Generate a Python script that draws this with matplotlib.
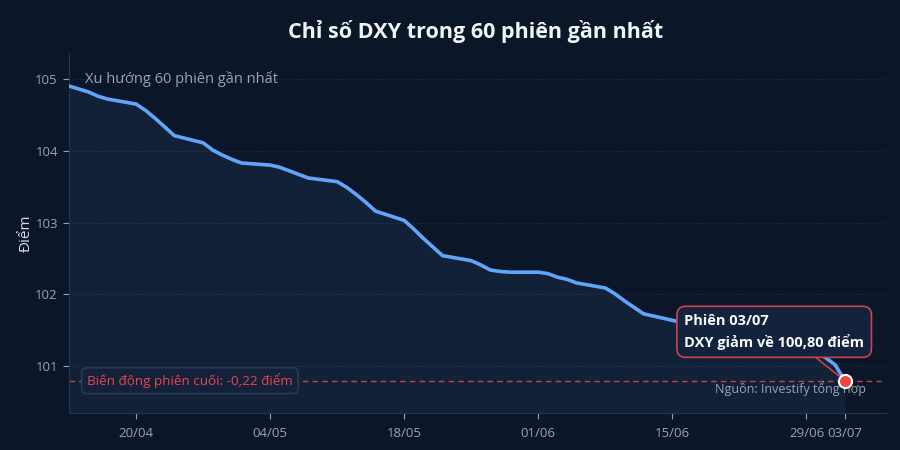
import numpy as np
import pandas as pd
import matplotlib
matplotlib.use('Agg')
import matplotlib.pyplot as plt
import matplotlib.dates as mdates

plt.rcParams['font.family'] = ['Open Sans', 'Noto Sans', 'DejaVu Sans']

# 60 phiên giao dịch (thứ 2 - thứ 6)
sessions = pd.bdate_range('2026-04-13', '2026-07-03')
dxy = [104.90, 104.86, 104.82, 104.76, 104.72,
       104.65, 104.56, 104.45, 104.33, 104.21,
       104.11, 104.01, 103.94, 103.88, 103.83,
       103.80, 103.77, 103.72, 103.67, 103.62,
       103.57, 103.49, 103.39, 103.28, 103.16,
       103.03, 102.91, 102.78, 102.66, 102.54,
       102.47, 102.41, 102.34, 102.32, 102.31,
       102.31, 102.29, 102.24, 102.21, 102.16,
       102.09, 102.01, 101.91, 101.82, 101.73,
       101.64, 101.61, 101.58, 101.54, 101.50,
       101.45, 101.41, 101.37, 101.33, 101.30,
       101.26, 101.21, 101.12, 101.02, 100.80]

tick_dates = pd.to_datetime(['2026-04-20', '2026-05-04', '2026-05-18', '2026-06-01',
                             '2026-06-15', '2026-06-29', '2026-07-03'])
tick_labels = ['20/04', '04/05', '18/05', '01/06', '15/06', '29/06', '03/07']
y_ticks = [101, 102, 103, 104, 105]

bg = '#0b1628'
line_col = '#60a5fa'
red = '#e5484d'
grey = '#97a3b6'

fig = plt.figure(figsize=(9, 4.5), dpi=100, facecolor=bg)
ax = fig.add_axes([0.0767, 0.0822, 0.9077, 0.80])
ax.set_facecolor(bg)

ymin, ymax = 100.35, 105.36
last = dxy[-1]
change = dxy[-1] - dxy[-2]

ax.fill_between(sessions, dxy, ymin, color=line_col, alpha=0.08, linewidth=0)
ax.plot(sessions, dxy, color=line_col, linewidth=2.6, solid_joinstyle='round',
        solid_capstyle='round', zorder=3)
ax.axhline(last, color=red, linestyle=(0, (4, 3)), linewidth=1.0, alpha=0.85, zorder=2)
ax.scatter([sessions[-1]], [last], s=90, color='#ef4444', edgecolor='white',
           linewidth=1.5, zorder=5)

ax.set_ylim(ymin, ymax)
ax.set_xlim(sessions[0], sessions[0] + pd.Timedelta(days=85.3))
ax.set_yticks(y_ticks)
ax.set_xticks(tick_dates)
ax.set_xticklabels(tick_labels)
ax.grid(axis='y', color='#22324d', linestyle=(0, (1, 2)), linewidth=0.8)
ax.set_axisbelow(True)

for s in ['top', 'right']:
    ax.spines[s].set_visible(False)
for s in ['left', 'bottom']:
    ax.spines[s].set_color('#26354f')
ax.tick_params(colors=grey, labelsize=9.5, length=4, width=0.8)
ax.tick_params(axis='x', pad=6)
ax.tick_params(axis='y', pad=4)

ax.set_ylabel('Điểm', color='#d6dde8', fontsize=11, labelpad=1)
fig.suptitle('Chỉ số DXY trong 60 phiên gần nhất', color='#f1f5f9',
             fontsize=15.5, fontweight='bold', x=0.528, y=0.955)

ax.text(0.02, 105.0, 'Xu hướng 60 phiên gần nhất', transform=ax.get_yaxis_transform(),
        color=grey, fontsize=10.5, va='center', ha='left')

ax.text(0.022, last, f'Biến động phiên cuối: {change:.2f}'.replace('.', ',') + ' điểm',
        transform=ax.get_yaxis_transform(), color=red, fontsize=9.7,
        va='center', ha='left',
        bbox=dict(boxstyle='round,pad=0.4,rounding_size=0.4', facecolor='#13213a',
                  edgecolor='#2e3d57', linewidth=1))

ax.text(0.976, 0.069, 'Nguồn: Investify tổng hợp', transform=ax.transAxes,
        color=grey, fontsize=9, ha='right', va='center')

ax.annotate(f'Phiên {sessions[-1]:%d/%m}\nDXY giảm về {last:.2f}'.replace('.', ',') + ' điểm',
            xy=(sessions[-1], last), xytext=(0.753, 101.48),
            textcoords=('axes fraction', 'data'),
            color='#f8fafc', fontsize=10.5, fontweight='bold', va='center', ha='left',
            linespacing=1.5,
            bbox=dict(boxstyle='round,pad=0.5,rounding_size=0.6', facecolor='#14233d',
                      edgecolor='#c8454f', linewidth=1.2),
            arrowprops=dict(arrowstyle='-', color='#d9434d', linewidth=1.1,
                            relpos=(0.68, 0), shrinkA=0, shrinkB=5),
            zorder=6)

fig.savefig('out.png', dpi=100, facecolor=bg)
